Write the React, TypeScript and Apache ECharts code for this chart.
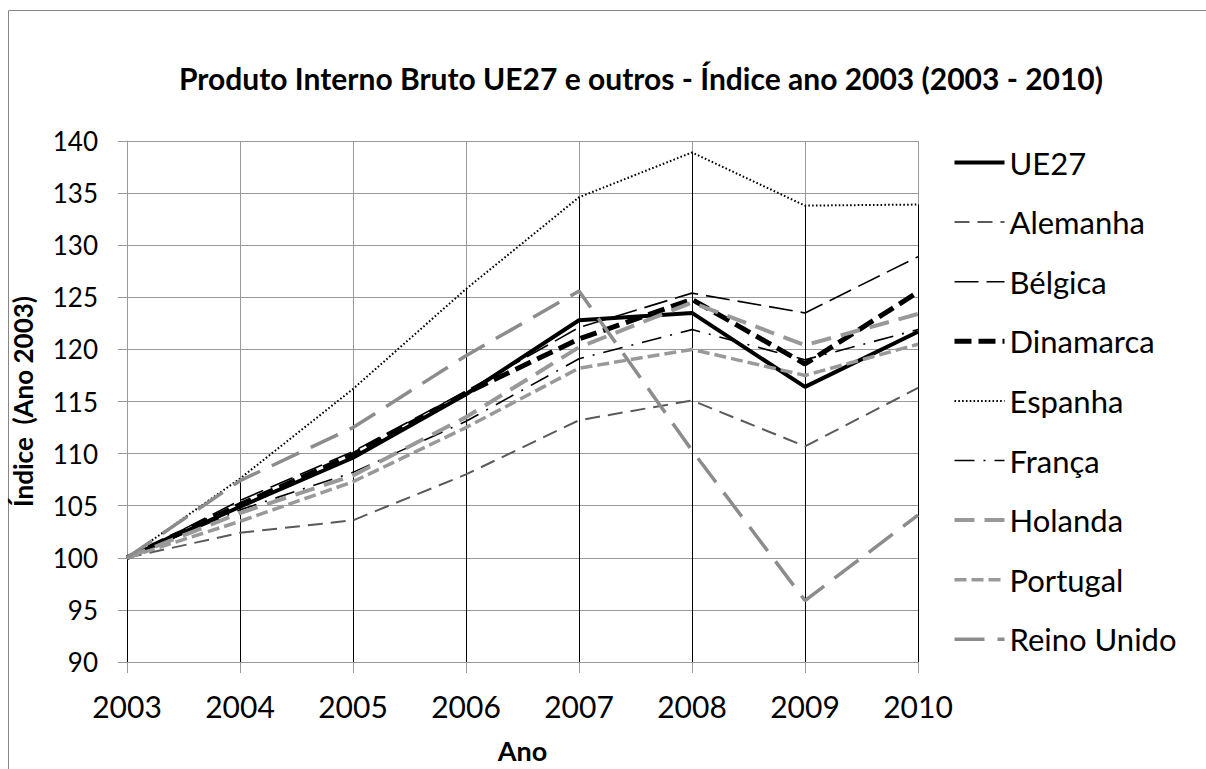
import React, { useEffect, useRef } from "react";
import * as echarts from "echarts";

const years = ["2003", "2004", "2005", "2006", "2007", "2008", "2009", "2010"];
const seriesNames = ["UE27", "Alemanha", "Bélgica", "Dinamarca", "Espanha", "França", "Holanda", "Portugal", "Reino Unido"];

const ue27 = [100, 104.9, 109.6, 115.7, 122.8, 123.5, 116.4, 121.7];
const alemanha = [100, 102.4, 103.6, 108.0, 113.2, 115.1, 110.7, 116.3];
const belgica = [100, 105.5, 110.2, 116.0, 122.1, 125.4, 123.5, 128.9];
const dinamarca = [100, 105.1, 109.9, 115.8, 121.0, 124.8, 118.6, 125.5];
const espanha = [100, 107.6, 116.2, 125.8, 134.6, 138.9, 133.8, 133.9];
const franca = [100, 104.6, 108.2, 113.1, 119.1, 121.9, 119.0, 121.9];
const holanda = [100, 104.3, 107.9, 113.5, 120.2, 124.5, 120.4, 123.4];
const portugal = [100, 103.5, 107.3, 112.5, 118.2, 120.0, 117.5, 120.5];
const reinoUnido = [100, 107.4, 112.5, 119.4, 125.6, 110.3, 95.9, 104.1];

const allValues = [ue27, alemanha, belgica, dinamarca, espanha, franca, holanda, portugal, reinoUnido];

const yMin = 90;
const yMax = 140;
const yInterval = 5;

const lineStyles: any[] = [
  { color: "#000000", width: 4, type: "solid", cap: "butt" },
  { color: "#5a5a5a", width: 2, type: [15, 8], cap: "butt" },
  { color: "#000000", width: 1.6, type: [24, 8], cap: "butt" },
  { color: "#000000", width: 5, type: [17, 7], cap: "butt" },
  { color: "#000000", width: 2, type: [1.6, 2.2], cap: "butt" },
  { color: "#000000", width: 1.6, type: [20, 9, 2, 9], cap: "butt" },
  { color: "#999999", width: 4, type: [20, 10], cap: "butt" },
  { color: "#999999", width: 3.5, type: [12, 5], cap: "butt" },
  { color: "#8c8c8c", width: 3.5, type: [30, 13], cap: "butt" },
];

const FONT = "Lato, 'Open Sans', sans-serif";

export default function App() {
  const ref = useRef<HTMLDivElement>(null);

  useEffect(() => {
    if (!ref.current) return;
    const chart = echarts.init(ref.current, undefined, { renderer: "svg" });

    const dropTops = years.map((_, i) => Math.max(...allValues.map((s) => s[i])));

    const lineSeries = seriesNames.map((name, k) => ({
      name,
      type: "line",
      data: allValues[k],
      symbol: "none",
      showSymbol: false,
      lineStyle: lineStyles[k],
      itemStyle: { color: lineStyles[k].color },
      z: 3 + k,
    }));

    const option: any = {
      animation: false,
      backgroundColor: "#ffffff",
      textStyle: { fontFamily: FONT },
      title: {
        text: "Produto Interno Bruto UE27 e outros - Índice ano 2003 (2003 - 2010)",
        left: 636,
        top: 58,
        textAlign: "center",
        textStyle: { fontFamily: FONT, fontWeight: "bold", fontSize: 30, color: "#000" },
      },
      graphic: [
        {
          type: "rect",
          shape: { x: 8.5, y: 10.5, width: 1220, height: 800 },
          style: { fill: "none", stroke: "#868686", lineWidth: 1 },
          silent: true,
        },
      ],
      legend: {
        orient: "vertical",
        left: 952,
        top: 147,
        padding: 0,
        itemWidth: 50,
        itemHeight: 14,
        itemGap: 28.6,
        textStyle: { fontFamily: FONT, fontSize: 31, color: "#000" },
        itemStyle: { color: "rgba(0,0,0,0)", borderWidth: 0, borderColor: "rgba(0,0,0,0)" },
        data: seriesNames.map((name, k) => ({
          name,
          lineStyle: { ...lineStyles[k] },
          itemStyle: { color: "rgba(0,0,0,0)", borderWidth: 0, borderColor: "rgba(0,0,0,0)" },
        })),
      },
      grid: { left: 127, top: 141, width: 791, height: 523, containLabel: false },
      xAxis: {
        type: "category",
        data: years,
        boundaryGap: false,
        name: "Ano",
        nameLocation: "middle",
        nameGap: 75,
        nameTextStyle: { fontFamily: FONT, fontWeight: "bold", fontSize: 27, color: "#000" },
        axisLine: { lineStyle: { color: "#999", width: 1 } },
        axisTick: { show: true, length: 11, lineStyle: { color: "#999" }, alignWithLabel: true },
        axisLabel: { fontFamily: FONT, fontSize: 30, color: "#000", margin: 29 },
        splitLine: { show: true, lineStyle: { color: "#999", width: 1 } },
      },
      yAxis: {
        type: "value",
        min: yMin,
        max: yMax,
        interval: yInterval,
        name: "Índice  (Ano 2003)",
        nameLocation: "middle",
        nameGap: 91,
        nameRotate: 90,
        nameTextStyle: { fontFamily: FONT, fontWeight: "bold", fontSize: 26, color: "#000" },
        axisLine: { show: true, lineStyle: { color: "#999", width: 1 } },
        axisTick: { show: true, length: 9, lineStyle: { color: "#999" } },
        axisLabel: { fontFamily: FONT, fontSize: 26, color: "#000", margin: 29 },
        splitLine: { show: true, lineStyle: { color: "#999", width: 1 } },
      },
      series: [
        {
          type: "custom",
          name: "dropLines",
          silent: true,
          z: 2,
          data: dropTops.map((v, i) => [i, v]),
          renderItem: (params: any, api: any) => {
            const top = api.coord([api.value(0), api.value(1)]);
            const bottom = api.coord([api.value(0), yMin]);
            const x = Math.round(top[0]) + 0.5;
            return {
              type: "line",
              shape: { x1: x, y1: top[1], x2: x, y2: bottom[1] },
              style: { stroke: "#000", lineWidth: 1 },
            };
          },
        },
        ...lineSeries,
      ],
    };

    chart.setOption(option);
    return () => chart.dispose();
  }, []);

  return (
    <div
      ref={ref}
      style={{ position: "fixed", left: 0, top: 0, width: 1206, height: 769, background: "#fff" }}
    />
  );
}
